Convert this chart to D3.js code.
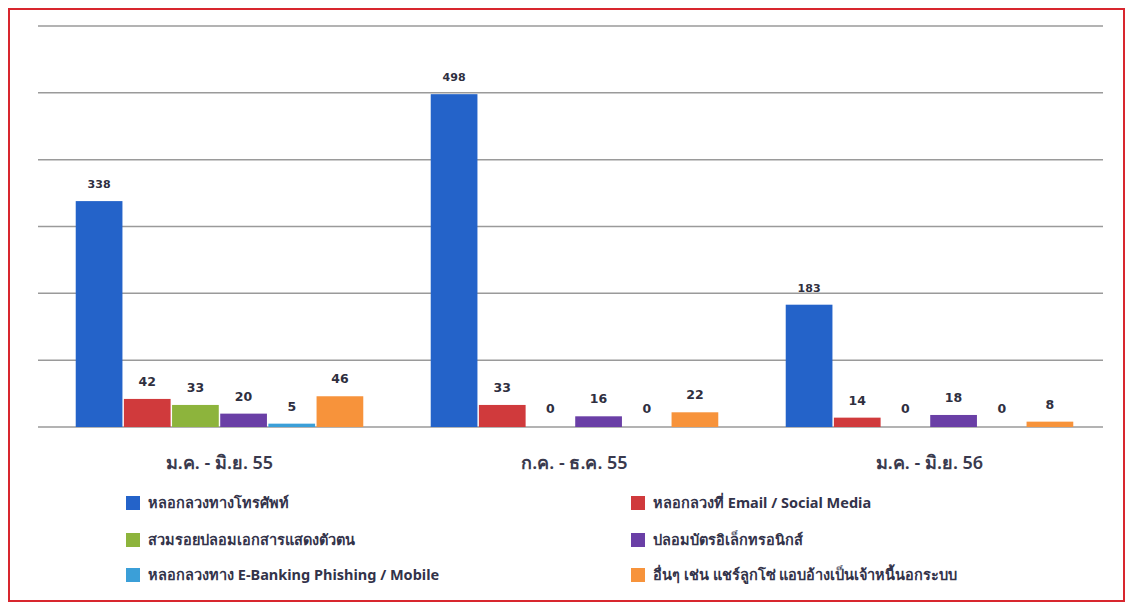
<!DOCTYPE html>
<html>
<head>
<meta charset="utf-8">
<script src="https://cdn.jsdelivr.net/npm/d3@7"></script>
<style>
  html, body { margin: 0; padding: 0; background: #fff; }
  svg { display: block; }
</style>
</head>
<body>
<svg id="chart" width="1130" height="607"></svg>
<script>
// Periods (x groups)
const periods = ["ม.ค. - มิ.ย. 55", "ก.ค. - ธ.ค. 55", "ม.ค. - มิ.ย. 56"];

// Fraud types (series)
const seriesNames = [
  "หลอกลวงทางโทรศัพท์",
  "หลอกลวงที่ Email / Social Media",
  "สวมรอยปลอมเอกสารแสดงตัวตน",
  "ปลอมบัตรอิเล็กทรอนิกส์",
  "หลอกลวงทาง E-Banking Phishing / Mobile",
  "อื่นๆ เช่น แชร์ลูกโซ่ แอบอ้างเป็นเจ้าหนี้นอกระบบ"
];
const seriesColors = ["#2463c9", "#d03a3c", "#8db43c", "#6a3fa6", "#3b9fd8", "#f7933b"];

// Case counts per series, one value per period
const phone       = [338, 498, 183];
const emailSocial = [42, 33, 14];
const identity    = [33, 0, 0];
const cardFraud   = [20, 16, 18];
const eBanking    = [5, 0, 0];
const others      = [46, 22, 8];
const seriesValues = [phone, emailSocial, identity, cardFraud, eBanking, others];

// Y gridline values
const yTicks = [0, 100, 200, 300, 400, 500, 600];

const svg = d3.select("#chart");
const plot = { left: 38, right: 1103, top: 26, bottom: 427 };

// Red frame
svg.append("rect")
  .attr("x", 9).attr("y", 9).attr("width", 1115).attr("height", 592)
  .attr("fill", "none").attr("stroke", "#d8262e").attr("stroke-width", 2);

const y = d3.scaleLinear().domain([0, 600]).range([plot.bottom, plot.top]);
const x0 = d3.scaleBand().domain(periods).range([plot.left + 4, plot.right + 4])
  .paddingInner(0.19).paddingOuter(0.095);
const x1 = d3.scaleBand().domain(d3.range(seriesNames.length))
  .range([0, x0.bandwidth()]).paddingInner(0.03);

// Gridlines
svg.append("g").selectAll("line").data(yTicks).join("line")
  .attr("x1", plot.left).attr("x2", plot.right)
  .attr("y1", d => y(d)).attr("y2", d => y(d))
  .attr("stroke", "#9a9a9a").attr("stroke-width", 1.5);

// Bars
const groups = svg.append("g").selectAll("g").data(periods).join("g")
  .attr("transform", d => `translate(${x0(d)},0)`);

groups.each(function(p, pi) {
  const g = d3.select(this);
  const rows = seriesValues.map((vals, si) => ({ si, v: vals[pi] }));
  g.selectAll("rect").data(rows).join("rect")
    .attr("x", d => x1(d.si))
    .attr("y", d => y(d.v))
    .attr("width", x1.bandwidth())
    .attr("height", d => y(0) - y(d.v))
    .attr("fill", d => seriesColors[d.si]);
  g.selectAll("text").data(rows).join("text")
    .attr("x", d => x1(d.si) + x1.bandwidth() / 2)
    .attr("y", d => y(d.v) - (d.v === 0 ? 14 : 13))
    .attr("text-anchor", "middle")
    .attr("font-family", "DejaVu Sans, sans-serif")
    .attr("font-weight", "bold")
    .attr("font-size", d => d.si === 0 ? 11 : 12.5)
    .attr("fill", "#2f2f3f")
    .text(d => d.v);
});

// Category labels
svg.append("g").selectAll("text").data(periods).join("text")
  .attr("x", d => x0(d) + x0.bandwidth() / 2)
  .attr("y", 469)
  .attr("text-anchor", "middle")
  .attr("font-family", "Noto Sans, sans-serif")
  .attr("font-size", 18)
  .attr("font-weight", "600")
  .attr("fill", "#3a3a4e")
  .text(d => d);

// Legend: two columns, three rows
const legendPos = [
  [126, 503], [631, 503],
  [126, 540], [631, 540],
  [126, 575], [631, 575]
];
const legend = svg.append("g").selectAll("g").data(seriesNames).join("g")
  .attr("transform", (d, i) => `translate(${legendPos[i][0]},${legendPos[i][1]})`);
legend.append("rect")
  .attr("x", 0).attr("y", -7).attr("width", 14).attr("height", 14)
  .attr("fill", (d, i) => seriesColors[i]);
legend.append("text")
  .attr("x", 22).attr("y", 5)
  .attr("font-family", "Noto Sans, sans-serif")
  .attr("font-size", 14.5)
  .attr("font-weight", "bold")
  .attr("fill", "#33334a")
  .text(d => d);
</script>
</body>
</html>
